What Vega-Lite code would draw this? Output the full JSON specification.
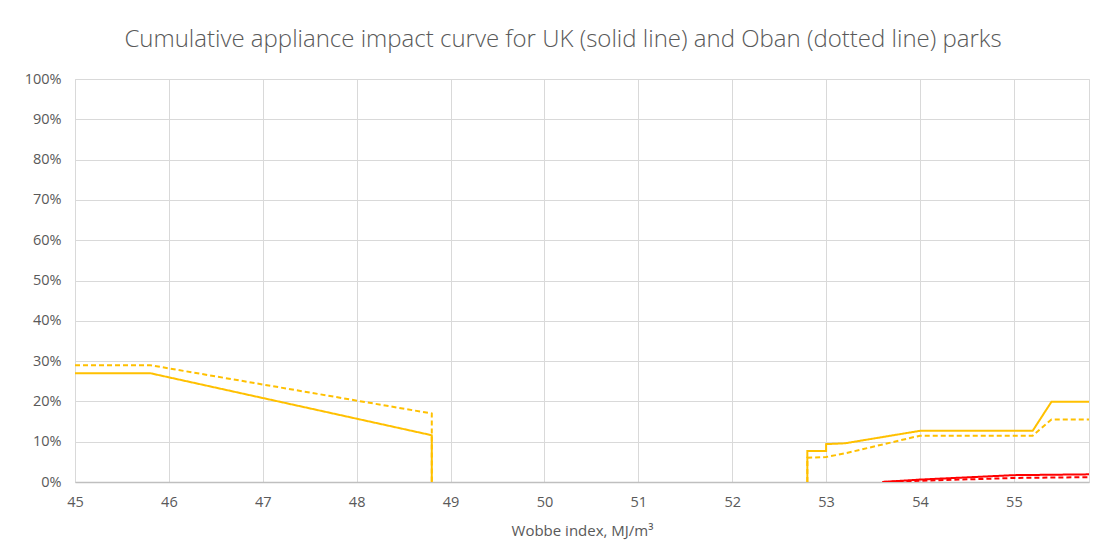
{
  "$schema": "https://vega.github.io/schema/vega-lite/v6.json",
  "width": 1014,
  "height": 403,
  "autosize": "none",
  "padding": {"left": 75, "top": 79, "right": 14, "bottom": 74},
  "background": "white",
  "title": {
    "text": "Cumulative  appliance impact curve for UK (solid line) and Oban (dotted line) parks",
    "font": "Open Sans",
    "fontSize": 24,
    "fontWeight": 300,
    "color": "#595959",
    "anchor": "middle",
    "dx": -19,
    "offset": 19
  },
  "data": {
    "values": [
      {"seg": "uk1", "park": "UK", "grp": "orange", "o": 1, "x": 45, "y": 0.27},
      {"seg": "uk1", "park": "UK", "grp": "orange", "o": 2, "x": 45.8, "y": 0.27},
      {"seg": "uk1", "park": "UK", "grp": "orange", "o": 3, "x": 48.8, "y": 0.116},
      {"seg": "uk1", "park": "UK", "grp": "orange", "o": 4, "x": 48.8, "y": 0},
      {"seg": "uk2", "park": "UK", "grp": "orange", "o": 1, "x": 52.8, "y": 0},
      {"seg": "uk2", "park": "UK", "grp": "orange", "o": 2, "x": 52.8, "y": 0.077},
      {"seg": "uk2", "park": "UK", "grp": "orange", "o": 3, "x": 53, "y": 0.077},
      {"seg": "uk2", "park": "UK", "grp": "orange", "o": 4, "x": 53, "y": 0.094},
      {"seg": "uk2", "park": "UK", "grp": "orange", "o": 5, "x": 53.2, "y": 0.096},
      {"seg": "uk2", "park": "UK", "grp": "orange", "o": 6, "x": 54, "y": 0.127},
      {"seg": "uk2", "park": "UK", "grp": "orange", "o": 7, "x": 55.2, "y": 0.127},
      {"seg": "uk2", "park": "UK", "grp": "orange", "o": 8, "x": 55.4, "y": 0.199},
      {"seg": "uk2", "park": "UK", "grp": "orange", "o": 9, "x": 55.8, "y": 0.199},
      {"seg": "ob1", "park": "Oban", "grp": "orange", "o": 1, "x": 45, "y": 0.29},
      {"seg": "ob1", "park": "Oban", "grp": "orange", "o": 2, "x": 45.8, "y": 0.29},
      {"seg": "ob1", "park": "Oban", "grp": "orange", "o": 3, "x": 48.8, "y": 0.17},
      {"seg": "ob1", "park": "Oban", "grp": "orange", "o": 4, "x": 48.8, "y": 0},
      {"seg": "ob2", "park": "Oban", "grp": "orange", "o": 1, "x": 52.8, "y": 0},
      {"seg": "ob2", "park": "Oban", "grp": "orange", "o": 2, "x": 52.8, "y": 0.06},
      {"seg": "ob2", "park": "Oban", "grp": "orange", "o": 3, "x": 53, "y": 0.062},
      {"seg": "ob2", "park": "Oban", "grp": "orange", "o": 4, "x": 53.2, "y": 0.071},
      {"seg": "ob2", "park": "Oban", "grp": "orange", "o": 5, "x": 54, "y": 0.115},
      {"seg": "ob2", "park": "Oban", "grp": "orange", "o": 6, "x": 55.2, "y": 0.115},
      {"seg": "ob2", "park": "Oban", "grp": "orange", "o": 7, "x": 55.4, "y": 0.155},
      {"seg": "ob2", "park": "Oban", "grp": "orange", "o": 8, "x": 55.8, "y": 0.155},
      {"seg": "ukr", "park": "UK", "grp": "red", "o": 1, "x": 53.6, "y": 0},
      {"seg": "ukr", "park": "UK", "grp": "red", "o": 2, "x": 54, "y": 0.006},
      {"seg": "ukr", "park": "UK", "grp": "red", "o": 3, "x": 55, "y": 0.017},
      {"seg": "ukr", "park": "UK", "grp": "red", "o": 4, "x": 55.8, "y": 0.019},
      {"seg": "obr", "park": "Oban", "grp": "red", "o": 1, "x": 53.6, "y": 0},
      {"seg": "obr", "park": "Oban", "grp": "red", "o": 2, "x": 54, "y": 0.003},
      {"seg": "obr", "park": "Oban", "grp": "red", "o": 3, "x": 55, "y": 0.01},
      {"seg": "obr", "park": "Oban", "grp": "red", "o": 4, "x": 55.8, "y": 0.012}
    ]
  },
  "mark": {"type": "line", "strokeWidth": 2, "clip": true},
  "encoding": {
    "x": {
      "field": "x", "type": "quantitative",
      "scale": {"domain": [45, 55.8], "nice": false, "zero": false},
      "axis": {
        "values": [45, 46, 47, 48, 49, 50, 51, 52, 53, 54, 55],
        "title": "Wobbe index, MJ/m³",
        "titleFont": "Open Sans", "titleFontSize": 15, "titleFontWeight": "normal", "titleColor": "#595959", "titlePadding": 15,
        "labelFont": "Open Sans", "labelFontSize": 14.5, "labelColor": "#595959", "labelPadding": 13, "labelFlush": false,
        "ticks": false, "domainColor": "#BFBFBF", "domainWidth": 1.5,
        "gridColor": "#D9D9D9", "gridWidth": 1
      }
    },
    "y": {
      "field": "y", "type": "quantitative",
      "scale": {"domain": [0, 1], "nice": false},
      "axis": {
        "values": [0, 0.1, 0.2, 0.3, 0.4, 0.5, 0.6, 0.7, 0.8, 0.9, 1],
        "format": ".0%", "title": null,
        "labelFont": "Open Sans", "labelFontSize": 14.5, "labelColor": "#595959", "labelPadding": 14, "labelFlush": false,
        "ticks": false, "domain": false,
        "gridColor": "#D9D9D9", "gridWidth": 1
      }
    },
    "color": {
      "field": "grp", "type": "nominal",
      "scale": {"domain": ["orange", "red"], "range": ["#FFC000", "#FF0000"]},
      "legend": null
    },
    "strokeDash": {
      "field": "park", "type": "nominal",
      "scale": {"domain": ["UK", "Oban"], "range": [[1, 0], [5, 3]]},
      "legend": null
    },
    "detail": {"field": "seg"},
    "order": {"field": "o"}
  },
  "config": {
    "view": {"stroke": "#D9D9D9", "strokeWidth": 1}
  }
}
